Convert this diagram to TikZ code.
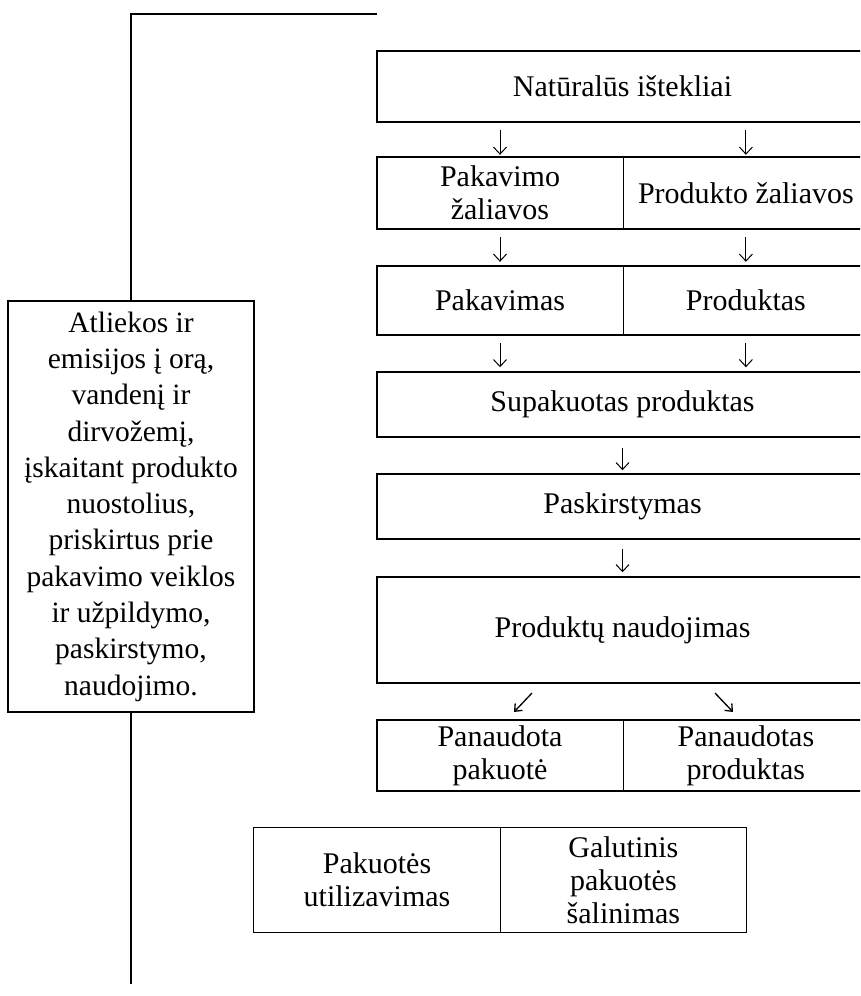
\documentclass[tikz,border=0pt]{standalone}
\usepackage{fontspec}
\setmainfont{Liberation Serif}
\usetikzlibrary{positioning,arrows.meta}
\tikzset{
	txt/.style={font=\fontsize{30}{33}\selectfont, align=center, inner sep=0pt},
	box/.style={txt, draw, line width=1.5pt, minimum width=491pt},
	cell/.style={txt, minimum width=245.5pt},
	frame/.style={line width=1.5pt},
	divider/.style={line width=0.8pt},
	arr/.style={line width=1pt, -{Straight Barb[length=7pt, width=13pt]}},
	darr/.style={line width=1.3pt, -{Straight Barb[length=6pt, width=10pt]}}
}

\begin{document}
\begin{tikzpicture}[x=1pt, y=-1pt]
	\useasboundingbox (0,0) rectangle (860,996);
	\clip (0,0) rectangle (860,996);

	% right column
	\node[box, minimum height=71pt] (natural) at (622.5,86.5) {Natūralūs ištekliai};
	\node[cell, minimum height=72pt] (pakzal) at (500,193) {Pakavimo\\žaliavos};
	\node[cell, minimum height=72pt, right=0pt of pakzal] (prodzal) {Produkto žaliavos};
	\draw[frame] (pakzal.north west) rectangle (prodzal.south east);
	\draw[divider] (pakzal.north east) -- (pakzal.south east);
	\node[cell, minimum height=69pt] (pakav) at (500,300.5) {Pakavimas};
	\node[cell, minimum height=69pt, right=0pt of pakav] (produkt) {Produktas};
	\draw[frame] (pakav.north west) rectangle (produkt.south east);
	\draw[divider] (pakav.north east) -- (pakav.south east);
	\node[box, minimum height=65pt] (supak) at (622.5,404.5) {Supakuotas produktas};
	\node[box, minimum height=65pt] (paskirst) at (622.5,506.5) {Paskirstymas};
	\node[box, minimum height=106pt] (naudoj) at (622.5,630) {Produktų naudojimas};
	\node[cell, minimum height=71pt] (panpak) at (500,755.5) {Panaudota\\pakuotė};
	\node[cell, minimum height=71pt, right=0pt of panpak] (panprod) {Panaudotas\\produktas};
	\draw[frame] (panpak.north west) rectangle (panprod.south east);
	\draw[divider] (panpak.north east) -- (panpak.south east);

	% arrows between the rows
	\draw[arr, shorten <=7pt, shorten >=2pt] (natural.south -| pakzal.north) -- (pakzal.north);
	\draw[arr, shorten <=7pt, shorten >=2pt] (natural.south -| prodzal.north) -- (prodzal.north);
	\draw[arr, shorten <=8pt, shorten >=4pt] (pakzal.south) -- (pakav.north);
	\draw[arr, shorten <=8pt, shorten >=4pt] (prodzal.south) -- (produkt.north);
	\draw[arr, shorten <=8pt, shorten >=4pt] (pakav.south) -- (supak.north -| pakav.south);
	\draw[arr, shorten <=8pt, shorten >=4pt] (produkt.south) -- (supak.north -| produkt.south);
	\draw[arr, shorten <=10pt, shorten >=3pt] (supak.south) -- (paskirst.north);
	\draw[arr, shorten <=9pt, shorten >=4pt] (paskirst.south) -- (naudoj.north);
	\coordinate (d1s) at (532,693);
	\coordinate (d1e) at (514,712);
	\coordinate (d2s) at (715,693);
	\coordinate (d2e) at (733,712);
	\draw[darr] (d1s) -- (d1e);
	\draw[darr] (d2s) -- (d2e);

	% bottom pair
	\node[cell, minimum width=246pt, minimum height=104pt] (utiliz) at (377,880) {Pakuotės\\utilizavimas};
	\node[cell, minimum width=246pt, minimum height=104pt, right=0pt of utiliz] (salin) {Galutinis\\pakuotės\\šalinimas};
	\draw[divider] (utiliz.north west) rectangle (salin.south east);
	\draw[divider] (utiliz.north east) -- (utiliz.south east);

	% left column
	\node[txt, draw, line width=1.2pt, minimum width=246pt, minimum height=411pt,
		font=\fontsize{29.5}{36.3}\selectfont] (atliekos) at (131,506.5)
		{Atliekos ir\\emisijos į orą,\\vandenį ir\\dirvožemį,\\įskaitant produkto\\nuostolius,\\priskirtus prie\\pakavimo veiklos\\ir užpildymo,\\paskirstymo,\\naudojimo.};
	\coordinate (topend) at (377,14);
	\coordinate (topcorner) at (131,14);
	\coordinate (bottomend) at (131,984);
	\draw[frame] (topend) -- (topcorner) -- (atliekos.north);
	\draw[frame] (atliekos.south) -- (bottomend);
\end{tikzpicture}
\end{document}
